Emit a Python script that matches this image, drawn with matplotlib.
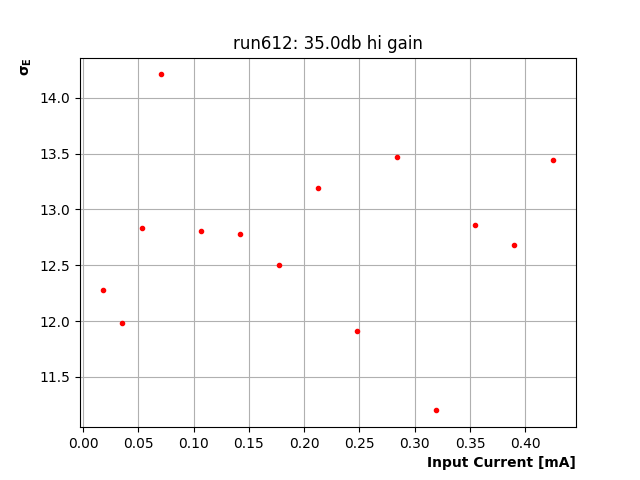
import numpy as np
import matplotlib
matplotlib.use('Agg')
import matplotlib.pyplot as plt

current = [0.0177, 0.0355, 0.0532, 0.0709, 0.1064, 0.1418, 0.1773, 0.2128,
           0.2482, 0.2837, 0.3191, 0.3546, 0.3901, 0.4255]
sigma_e = [12.28, 11.98, 12.83, 14.21, 12.81, 12.78, 12.50, 13.19,
           11.91, 13.47, 11.20, 12.86, 12.68, 13.44]

fig = plt.figure(figsize=(6.4, 4.8), dpi=100)
ax = fig.add_subplot(111)
ax.plot(current, sigma_e, '.', color='red')
ax.set_xticks(np.arange(0, 0.45, 0.05))
ax.grid(True)
ax.set_title('run612: 35.0db hi gain')
ax.set_xlabel('Input Current [mA]', loc='right', fontweight='bold')
ax.set_ylabel(r'$\mathbf{\sigma_E}$', loc='top', fontweight='bold')
plt.savefig('out.png')
